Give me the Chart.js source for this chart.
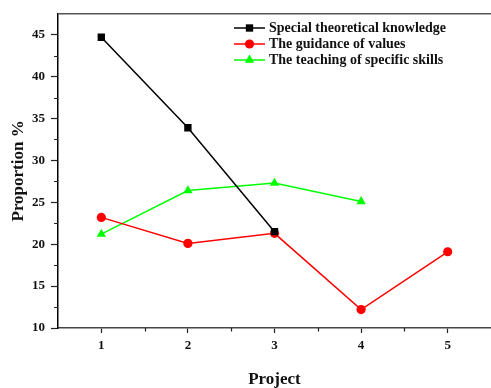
<!DOCTYPE html>
<html>
<head>
<meta charset="utf-8">
<script src="https://cdn.jsdelivr.net/npm/chart.js@4/dist/chart.umd.min.js"></script>
<style>
  html, body { margin: 0; padding: 0; background: #fff; }
  canvas { display: block; }
</style>
</head>
<body>
<canvas id="chart" width="491" height="388"></canvas>
<script>
var projects = [1, 2, 3, 4, 5];
var theoretical = [44.7, 33.9, 21.5];
var guidance = [23.2, 20.1, 21.3, 12.2, 19.1];
var skills = [21.2, 26.4, 27.3, 25.1];

var seriesLabels = ['Special theoretical knowledge', 'The guidance of values', 'The teaching of specific skills'];

var serif = '"Liberation Serif", "Times New Roman", serif';

function toPoints(values) {
    return values.map(function (v, i) { return { x: projects[i], y: v }; });
}

// minor ticks, top frame line and the legend
var extras = {
    id: 'extras',
    afterDraw: function (chart) {
        var c = chart.ctx;
        var area = chart.chartArea;
        var xs = chart.scales.x, ys = chart.scales.y;
        c.save();
        c.strokeStyle = '#222';
        c.lineWidth = 1.2;
        c.beginPath();
        [1.5, 2.5, 3.5, 4.5].forEach(function (v) {
            var px = Math.round(xs.getPixelForValue(v)) + 0.5;
            c.moveTo(px, area.bottom);
            c.lineTo(px, area.bottom + 3.5);
        });
        [12.5, 17.5, 22.5, 27.5, 32.5, 37.5, 42.5].forEach(function (v) {
            var py = Math.round(ys.getPixelForValue(v)) + 0.5;
            c.moveTo(area.left, py);
            c.lineTo(area.left - 4, py);
        });
        c.stroke();

        // top frame
        c.strokeStyle = '#555';
        c.lineWidth = 1.5;
        c.beginPath();
        c.moveTo(area.left, area.top);
        c.lineTo(chart.width, area.top);
        c.stroke();

        // legend
        var rowY = [28, 44, 60];
        c.font = 'bold 14px ' + serif;
        c.textBaseline = 'middle';
        c.textAlign = 'left';
        chart.data.datasets.forEach(function (ds, i) {
            var y = rowY[i];
            c.strokeStyle = ds.borderColor;
            c.lineWidth = 1.5;
            c.beginPath();
            c.moveTo(234, y);
            c.lineTo(265, y);
            c.stroke();
            c.fillStyle = ds.borderColor;
            Chart.helpers.drawPoint(c, {
                pointStyle: ds.pointStyle,
                radius: ds.pointRadius,
                borderWidth: 0,
                rotation: 0
            }, 249.5, y);
            c.fillStyle = '#111';
            c.fillText(ds.label, 269, y + 0.5);
        });
        c.restore();
    }
};

function mkSet(label, values, color, style, radius) {
    return {
        label: label,
        data: toPoints(values),
        borderColor: color,
        backgroundColor: color,
        pointBackgroundColor: color,
        pointBorderColor: color,
        pointBorderWidth: 0,
        pointStyle: style,
        pointRadius: radius,
        pointHoverRadius: radius,
        borderWidth: 1.5,
        tension: 0,
        fill: false
    };
}

var chart = new Chart(document.getElementById('chart').getContext('2d'), {
    type: 'line',
    data: {
        datasets: [
            mkSet(seriesLabels[0], theoretical, '#000000', 'rect', 5.2),
            mkSet(seriesLabels[1], guidance, '#ff0000', 'circle', 4.6),
            mkSet(seriesLabels[2], skills, '#00ff00', 'triangle', 5.4)
        ]
    },
    options: {
        responsive: false,
        animation: false,
        devicePixelRatio: 1,
        layout: { autoPadding: false, padding: { top: 13, right: 0, left: 0, bottom: 0 } },
        plugins: {
            legend: { display: false },
            tooltip: { enabled: false }
        },
        scales: {
            x: {
                type: 'linear',
                min: 0.5,
                max: 5.5,
                afterFit: function (scale) {
                    scale.height = 60;
                    scale.paddingRight = 0;
                },
                ticks: {
                    stepSize: 0.5,
                    autoSkip: false,
                    maxRotation: 0,
                    padding: 5,
                    color: '#111',
                    font: { family: serif, size: 13, weight: 'bold' },
                    callback: function (v) { return Number.isInteger(v) ? String(v) : ''; }
                },
                grid: {
                    drawOnChartArea: false,
                    tickLength: 5,
                    tickWidth: 1.2,
                    tickColor: function (ctx) {
                        return ctx.tick && Number.isInteger(ctx.tick.value) ? '#222' : 'rgba(0,0,0,0)';
                    }
                },
                border: { color: '#444', width: 1.5 },
                title: {
                    display: true,
                    text: 'Project',
                    color: '#111',
                    padding: { top: 0, bottom: 0 },
                    font: { family: serif, size: 17, weight: 'bold', lineHeight: 1 }
                }
            },
            y: {
                min: 10,
                max: 47.5,
                afterFit: function (scale) { scale.width = 58; },
                ticks: {
                    stepSize: 5,
                    padding: 6,
                    color: '#111',
                    font: { family: serif, size: 13, weight: 'bold' },
                    callback: function (v) { return v % 5 === 0 ? String(v) : ''; }
                },
                grid: {
                    drawOnChartArea: false,
                    tickLength: 7,
                    tickWidth: 1.2,
                    tickColor: function (ctx) {
                        return ctx.tick && ctx.tick.value % 5 === 0 ? '#222' : 'rgba(0,0,0,0)';
                    }
                },
                border: { color: '#000', width: 1.5 },
                title: {
                    display: true,
                    text: 'Proportion %',
                    color: '#111',
                    padding: { top: 10, bottom: 0 },
                    font: { family: serif, size: 17, weight: 'bold', lineHeight: 1 }
                }
            }
        }
    },
    plugins: [extras]
});
</script>
</body>
</html>
